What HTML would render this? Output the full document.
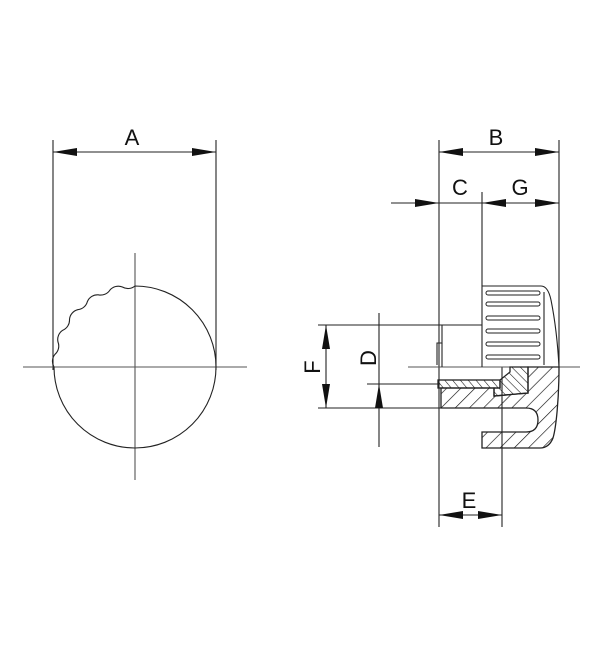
<!DOCTYPE html>
<html><head><meta charset="utf-8">
<style>html,body{margin:0;padding:0;background:#fff}svg{display:block}</style></head>
<body>
<svg width="600" height="650" viewBox="0 0 600 650" xmlns="http://www.w3.org/2000/svg">
<defs>
<pattern id="h1" patternUnits="userSpaceOnUse" width="10" height="10" patternTransform="rotate(45)">
<line x1="0" y1="0" x2="0" y2="10" stroke="#111" stroke-width="1.3"/></pattern>
<pattern id="h2" patternUnits="userSpaceOnUse" width="6" height="6" patternTransform="rotate(-40)">
<line x1="0" y1="0" x2="0" y2="6" stroke="#111" stroke-width="1.1"/></pattern>
<pattern id="h3" patternUnits="userSpaceOnUse" width="6" height="6" patternTransform="rotate(-45)">
<line x1="0" y1="0" x2="0" y2="6" stroke="#111" stroke-width="1.1"/></pattern>
</defs>
<g fill="none" stroke="#222" stroke-width="1.1">
<!-- left view -->
<line x1="53" y1="140" x2="53" y2="370"/>
<line x1="216" y1="140" x2="216" y2="370"/>
<line x1="53" y1="152" x2="216" y2="152"/>
<line x1="23" y1="367" x2="247" y2="367" stroke="#555"/>
<line x1="135" y1="253" x2="135" y2="480" stroke="#555"/>
<path d="M54 367 A11 11 0 0 1 55 354.3 A11 11 0 0 0 58 342 A11 11 0 0 1 62.8 330.2 A11 11 0 0 0 69.5 319.4 A11 11 0 0 1 77.7 309.7 A11 11 0 0 0 87.4 301.5 A11 11 0 0 1 98.2 294.8 A11 11 0 0 0 110 290 A11 11 0 0 1 122.4 287 A11 11 0 0 0 135 286 A81 81 0 1 1 54 367 Z"/>

<!-- right view dims -->
<line x1="439" y1="140" x2="439" y2="527"/>
<line x1="559" y1="140" x2="559" y2="367"/>
<line x1="439" y1="152" x2="559" y2="152"/>
<line x1="391" y1="203" x2="559" y2="203"/>
<line x1="482" y1="192" x2="482" y2="286"/>
<line x1="502" y1="367" x2="502" y2="527"/>
<line x1="439" y1="515" x2="502" y2="515"/>
<line x1="318" y1="325" x2="482" y2="325"/>
<line x1="318" y1="408" x2="441" y2="408"/>
<line x1="326" y1="325" x2="326" y2="408"/>
<line x1="379" y1="313" x2="379" y2="447"/>
<line x1="367" y1="384" x2="440" y2="384"/>
<line x1="408" y1="367" x2="580" y2="367" stroke="#555"/>
<path d="M442 325 V343 H437 V365"/>
<line x1="442" y1="343" x2="442" y2="367"/>

<!-- knob -->
<path d="M482 367 V286 H541 Q548 286 551 300 Q557 330 559 367"/>
<line x1="544" y1="292" x2="544" y2="365"/>
<g stroke-width="1">
<rect x="486" y="291" width="54" height="4" rx="2"/>
<rect x="486" y="302" width="54" height="4" rx="2"/>
<rect x="486" y="316" width="54" height="4" rx="2"/>
<rect x="486" y="329" width="54" height="4" rx="2"/>
<rect x="486" y="342" width="54" height="4" rx="2"/>
<rect x="486" y="355" width="54" height="4" rx="2"/>
</g>

<!-- section -->
<path d="M441 388 L494 388 L494 396 L528 393 L528 367 L559 367 C559 400 556 428 553 438 Q549 448 540 448 L482 448 L482 432 L526 432 Q538 432 538 420 Q538 408 526 408 L441 408 Z" fill="url(#h1)" stroke-width="1.3"/>
<path d="M510 367 L528 367 L528 393 L494 396 L494 388 L500 388 L500 380 L510 372 Z" fill="url(#h3)" stroke-width="1.3"/>
<rect x="438" y="380" width="62" height="8" fill="url(#h2)" stroke-width="1.3"/>
</g>

<g fill="#111" stroke="none">
<polygon points="53,152 77,148 77,156"/>
<polygon points="216,152 192,148 192,156"/>
<polygon points="439,152 463,148 463,156"/>
<polygon points="559,152 535,148 535,156"/>
<polygon points="439,203 415,199 415,207"/>
<polygon points="482,203 506,199 506,207"/>
<polygon points="559,203 535,199 535,207"/>
<polygon points="439,515 463,511 463,519"/>
<polygon points="502,515 478,511 478,519"/>
<polygon points="326,325 322,349 330,349"/>
<polygon points="326,408 322,384 330,384"/>
<polygon points="379,384 375,408 383,408"/>
</g>

<g font-family="Liberation Sans, sans-serif" font-size="22" fill="#111" text-anchor="middle">
<text x="132" y="145">A</text>
<text x="496" y="145">B</text>
<text x="460" y="195">C</text>
<text x="520" y="195">G</text>
<text x="469" y="508">E</text>
<text transform="translate(320,367) rotate(-90)">F</text>
<text transform="translate(376,358) rotate(-90)">D</text>
</g>
</svg>
</body></html>
